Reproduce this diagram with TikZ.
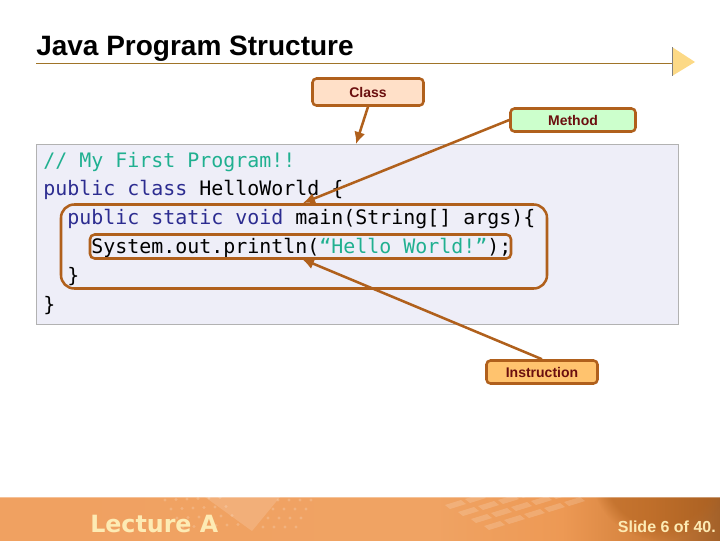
\documentclass[tikz,border=0pt]{standalone}
\usepackage{fontspec}
\setmainfont{Liberation Sans}
\newfontfamily\codefont{DejaVu Sans Mono}
\newfontfamily\lecturefont{DejaVu Sans}
\usetikzlibrary{arrows.meta,fadings}
\definecolor{rulecol}{HTML}{A07428}
\definecolor{edgecol}{HTML}{B0601C}
\definecolor{labelcol}{HTML}{6B0F0F}
\definecolor{commentcol}{HTML}{20B090}
\definecolor{keycol}{HTML}{2C2C90}
\definecolor{footcol}{HTML}{FDEBB4}
\definecolor{classfill}{HTML}{FFE0C8}
\definecolor{methodfill}{HTML}{CCFFCC}
\definecolor{instrfill}{HTML}{FFC36E}
\definecolor{codefill}{HTML}{EEEEF8}
\pgfdeclarehorizontalshading{footshade}{100bp}{
  rgb(0bp)=(0.94,0.63,0.38);
  rgb(25bp)=(0.94,0.63,0.38);
  rgb(55bp)=(0.94,0.64,0.39);
  rgb(64bp)=(0.93,0.60,0.33);
  rgb(70bp)=(0.82,0.50,0.23);
  rgb(75bp)=(0.64,0.38,0.16);
  rgb(100bp)=(0.64,0.38,0.16)}
\tikzset{
  labelbox/.style={draw=edgecol,line width=1.9pt,rounded corners=3pt,inner sep=0pt,
    text=labelcol,font=\fontsize{10.5}{12}\selectfont\bfseries},
  codeline/.style={anchor=base west,inner sep=0pt,font=\fontsize{14.95}{18}\selectfont\codefont},
  markbox/.style={draw=edgecol,line width=1.9pt,inner sep=0pt},
  pointer/.style={draw=edgecol,line width=1.9pt,-{Latex[length=9pt,width=8.5pt]}}
}
\begin{document}
\begin{tikzpicture}[x=0.75pt,y=-0.75pt]
	\useasboundingbox (0,0) rectangle (720,540);
	% Footer band
	\begin{scope}
		\clip (0,497) rectangle (720,540);
		\shade[shading=footshade] (0,497) rectangle (720,540);
		\fill[white,opacity=0.15] (205,497) -- (252,531) -- (280,497) -- cycle;
		\fill[edgecol,opacity=0.5,path fading=circle with fuzzy edge 20 percent] (660,470) circle[radius=70];
		\foreach \i in {0,...,5} \foreach \j in {0,...,3}
			\fill[white,opacity=0.18] (165+\i*11+\j*6,500+\j*9-\i*0.5) circle[radius=1.6];
		\foreach \i in {0,...,3} \foreach \j in {0,...,3}
			\fill[white,opacity=0.18] (278+\i*11-\j*5,500+\j*9) circle[radius=1.6];
		% Keys
		\foreach \i in {0,...,4} \foreach \j in {0,...,3}
			\fill[white,opacity=0.16] (445+\i*20+\j*13,505-\i*6+\j*7) -- ++(16,-5) -- ++(5,4) -- ++(-16,5) -- cycle;
	\end{scope}
	\fill[white,opacity=0.35] (0,497) rectangle (720,498);
	\node[anchor=base west,inner sep=0pt,text=footcol,font=\fontsize{17.8}{20}\selectfont\lecturefont\bfseries] (lecture) at (90,532) {Lecture A};
	\node[anchor=base east,inner sep=0pt,text=footcol,font=\fontsize{12}{14}\selectfont\bfseries] (slide) at (716,532) {Slide 6 of 40.};
	% Title
	\node[anchor=base west,inner sep=0pt,font=\fontsize{21}{24}\selectfont\bfseries] (title) at (36,55) {Java Program Structure};
	\coordinate (ruleleft) at (36,63.5);
	\coordinate (ruleright) at (672,63.5);
	\draw[rulecol,line width=0.75pt] (ruleleft) -- (ruleright);
	\fill[yellow!40!orange!45!white] (672,47) -- (695,62) -- (672,76) -- cycle;
	\draw[gray,line width=0.6pt] (672,47) -- (672,76);
	% Code
	\node[draw=black!30,fill=codefill,line width=0.6pt,minimum width=481.5pt,minimum height=135pt,inner sep=0pt] (codebox) at (357.5,234.5) {};
	\node[codeline,text=commentcol] (lineA) at (43,167) {// My First Program!!};
	\node[codeline] (lineB) at (43,195) {\textcolor{keycol}{public class} HelloWorld \{};
	\node[codeline] (lineC) at (67,224) {\textcolor{keycol}{public static void} main(String[] args)\{};
	\node[codeline] (lineD) at (91,253) {System.out.println(\textcolor{commentcol}{“Hello World!”});};
	\node[codeline] (lineE) at (67,282) {\}};
	\node[codeline] (lineF) at (43,311) {\}};
	% Marked regions
	\node[markbox,rounded corners=10pt,minimum width=364.5pt,minimum height=63pt] (mainbox) at (304,246.5) {};
	\node[markbox,rounded corners=3.5pt,minimum width=315.75pt,minimum height=18pt] (printbox) at (300.5,246.5) {};
	% Labels
	\node[labelbox,fill=classfill,minimum width=83.25pt,minimum height=20.25pt] (classlabel) at (368,92) {Class};
	\node[labelbox,fill=methodfill,minimum width=93.75pt,minimum height=17.25pt] (methodlabel) at (573,120) {Method};
	\node[labelbox,fill=instrfill,minimum width=83.25pt,minimum height=17.25pt] (instrlabel) at (542,372) {Instruction};
	% Pointers
	\coordinate (classtip) at (356,144);
	\coordinate (methodtip) at (303,203);
	\coordinate (instrtip) at (302,259);
	\draw[pointer] (classlabel.south) -- (classtip);
	\draw[pointer] (methodlabel.west) -- (methodtip);
	\draw[pointer] (instrlabel.north) -- (instrtip);
\end{tikzpicture}
\end{document}
